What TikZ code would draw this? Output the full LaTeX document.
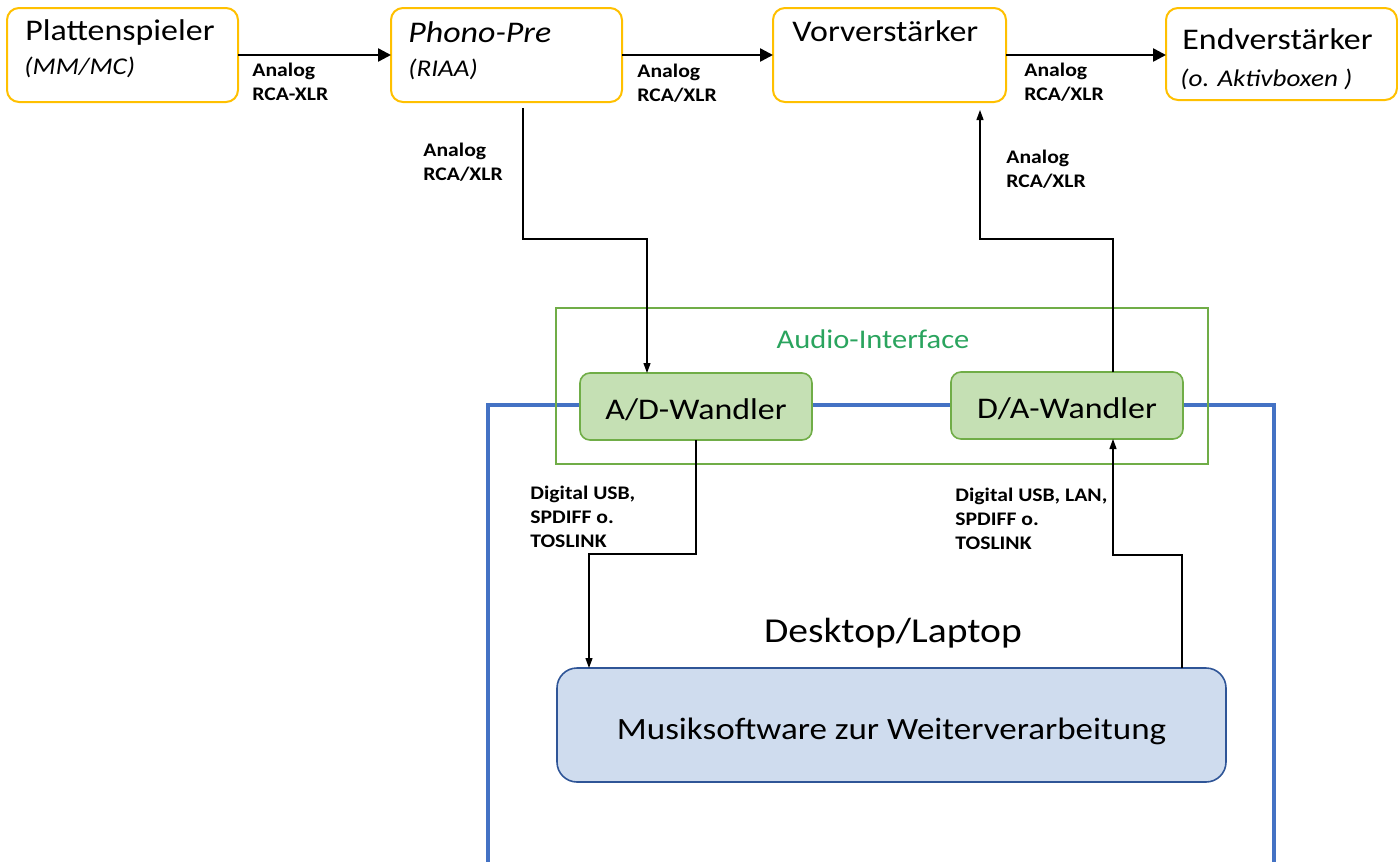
\documentclass[tikz,border=0pt]{standalone}
\usepackage{fontspec}
\setmainfont[FakeStretch=1.13]{Carlito}
\usetikzlibrary{arrows.meta}
\definecolor{gold}{HTML}{FFC000}
\definecolor{gruen}{HTML}{70AD47}
\definecolor{hellgruen}{HTML}{C5E0B4}
\definecolor{gruentext}{HTML}{2AA45E}
\definecolor{blau}{HTML}{4472C4}
\definecolor{hellblau}{HTML}{CFDCEE}
\definecolor{dunkelblau}{HTML}{2F5597}

\begin{document}
\begin{tikzpicture}[x=0.5pt,y=-0.5pt,
    geraet/.style={draw=gold,line width=1pt,rounded corners=6pt,inner sep=0pt,outer sep=0pt,anchor=north west,minimum width=115.5pt,minimum height=47pt},
    wandler/.style={draw=gruen,fill=hellgruen,line width=0.8pt,rounded corners=5pt,outer sep=0pt,anchor=north west,minimum width=116pt,minimum height=33.5pt,text height=13pt,text depth=0pt,font=\fontsize{15}{18}\selectfont},
    titel/.style={font=\fontsize{15}{18}\selectfont,anchor=base west,inner sep=0pt},
    zusatz/.style={font=\itshape\fontsize{12}{14}\selectfont,anchor=base west,inner sep=0pt},
    kabel/.style={font=\bfseries\fontsize{9.6}{12}\selectfont,align=left,anchor=north west,inner sep=0pt},
    signal/.style={line width=1.25pt,-{Triangle[length=6.5pt,width=6.5pt]}},
    leitung/.style={line width=0.6pt,-{Triangle[length=5pt,width=3.5pt]}}]
    \useasboundingbox (0,0) rectangle (1398,862);

    % Rechner-Rahmen
    \draw[draw=blau,line width=2pt] (488,880) |- (1274,405) -- (1274,880);

    % Kette oben
    \node[geraet] (platte) at (7,8) {};
    \node[geraet] (phono) at (391,8) {};
    \node[geraet,minimum width=116.5pt] (vor) at (773,8) {};
    \node[geraet,minimum height=46pt] (endv) at (1166,8) {};

    \node[titel] (platteName) at ([shift={(18,32)}]platte.north west) {Plattenspieler};
    \node[zusatz] (platteTyp) at ([shift={(17,66)}]platte.north west) {(MM/MC)};
    \node[titel] (phonoName) at ([shift={(17,34)}]phono.north west) {\itshape Phono-Pre};
    \node[zusatz] (phonoTyp) at ([shift={(17,68)}]phono.north west) {(RIAA)};
    \node[titel] (vorName) at ([shift={(19,33)}]vor.north west) {Vorverstärker};
    \node[titel] (endvName) at ([shift={(16,41.5)}]endv.north west) {Endverstärker};
    \node[zusatz] (endvTyp) at ([shift={(14,78)}]endv.north west) {(o. Aktivboxen )};

    \draw[signal] (platte.east) -- (phono.west);
    \draw[signal] (phono.east) -- (vor.west);
    \draw[signal] (vor.east) -- (vor.east -| endv.west);

    \node[kabel] (k1) at (252,63) {Analog\\RCA-XLR};
    \node[kabel] (k2) at (637,64) {Analog\\RCA/XLR};
    \node[kabel] (k3) at (1024,63) {Analog\\RCA/XLR};

    % Audio-Interface
    \node[draw=gruen,line width=0.8pt,inner sep=0pt,outer sep=0pt,anchor=north west,minimum width=326pt,minimum height=78pt] (interface) at (556,308) {};
    \node[text=gruentext,font=\fontsize{13.5}{16}\selectfont] (interfaceName) at (873,339) {Audio-Interface};
    \node[wandler] (ad) at (580,373) {A/D-Wandler};
    \node[wandler] (da) at (951,372) {D/A-Wandler};

    \draw[leitung] ([shift={(16.5,6)}]phono.south) -- ++(0,131) -| ([shift={(-49,0)}]ad.north);
    \draw[leitung] ([shift={(46,0)}]da.north) -- ++(0,-133) -| ([shift={(90.5,8)}]vor.south);
    \node[kabel] (k4) at (423,143) {Analog\\RCA/XLR};
    \node[kabel] (k5) at (1006,150) {Analog\\RCA/XLR};

    % Desktop/Laptop
    \node[font=\fontsize{17.5}{20}\selectfont] (rechner) at (893,633) {Desktop/Laptop};
    \node[draw=dunkelblau,fill=hellblau,line width=0.8pt,rounded corners=10pt,outer sep=0pt,anchor=north west,minimum width=334.5pt,minimum height=57pt,text height=14pt,text depth=0pt,font=\fontsize{15.5}{18}\selectfont] (musik) at (557,668) {Musiksoftware zur Weiterverarbeitung};

    \draw[leitung] (ad.south) -- ++(0,114) -| ([shift={(-302.5,0)}]musik.north);
    \draw[leitung] ([shift={(290.5,0)}]musik.north) -- ++(0,-113) -| ([shift={(46,0)}]da.south);
    \node[kabel] (k6) at (530,486) {Digital USB,\\SPDIFF o.\\TOSLINK};
    \node[kabel] (k7) at (955,488) {Digital USB, LAN,\\SPDIFF o.\\TOSLINK};
\end{tikzpicture}
\end{document}
